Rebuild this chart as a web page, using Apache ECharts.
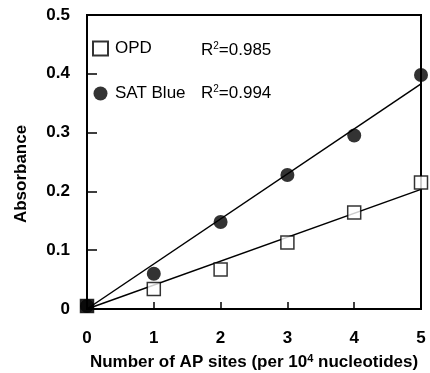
<!DOCTYPE html>
<html>
<head>
<meta charset="utf-8">
<script src="https://cdn.jsdelivr.net/npm/echarts@6/dist/echarts.min.js"></script>
<style>
  html, body { margin: 0; padding: 0; background: #fff; }
  #chart { width: 430px; height: 373px; }
</style>
</head>
<body>
<div id="chart"></div>
<script>
// data
const apSites = [0, 1, 2, 3, 4, 5]
const satBlue = [0.005, 0.06, 0.148, 0.228, 0.295, 0.398]
const opd = [0.005, 0.034, 0.067, 0.113, 0.164, 0.215]
const yTicks = [0, 0.1, 0.2, 0.3, 0.4, 0.5]
const xTicks = [0, 1, 2, 3, 4, 5]
const rSquared = { OPD: '0.985', 'SAT Blue': '0.994' }

const FONT = 'Liberation Sans, Arial, Helvetica, sans-serif'

// least squares fit forced through the origin
function fitLine(xs, ys) {
    let sxy = 0, sxx = 0
    xs.forEach((x, i) => { sxy += x * ys[i]; sxx += x * x })
    const k = sxy / sxx
    const x0 = xs[0], x1 = xs[xs.length - 1]
    return [[x0, k * x0], [x1, k * x1]]
}

const rich = {
    t: { fontSize: 17, fill: '#000', fontFamily: FONT },
    s: { fontSize: 10, fill: '#000', fontFamily: FONT, verticalAlign: 'top', padding: [0, 0, 8, 0] }
}

const chart = echarts.init(document.getElementById('chart'))

const option = {
    animation: false,
    textStyle: { fontFamily: FONT },
    grid: {
        left: 87, right: 9, top: 15, bottom: 64,
        outerBoundsMode: 'none',
        show: true, borderColor: '#000', borderWidth: 2
    },
    legend: {
        data: ['OPD', 'SAT Blue'],
        orient: 'vertical',
        left: 92, top: 40, padding: 0,
        itemWidth: 15, itemHeight: 14, itemGap: 28,
        textStyle: { fontSize: 17, color: '#000', fontFamily: FONT, padding: [0, 0, 0, 2] },
        selectedMode: false
    },
    graphic: [
        {
            type: 'text', x: 201, y: 50,
            style: { text: '{t|R}{s|2}{t|=' + rSquared.OPD + '}', rich, verticalAlign: 'middle' }
        },
        {
            type: 'text', x: 201, y: 93,
            style: { text: '{t|R}{s|2}{t|=' + rSquared['SAT Blue'] + '}', rich, verticalAlign: 'middle' }
        }
    ],
    xAxis: {
        type: 'value',
        min: xTicks[0], max: xTicks[xTicks.length - 1], interval: 1,
        name: '{b|Number of AP sites (per 10}{sup|4}{b| nucleotides)}',
        nameLocation: 'middle',
        nameGap: 44,
        nameTextStyle: {
            rich: {
                b: { fontSize: 17, fontWeight: 'bold', color: '#000', fontFamily: FONT },
                sup: { fontSize: 11, fontWeight: 'bold', color: '#000', fontFamily: FONT, verticalAlign: 'top', padding: [0, 0, 8, 0] }
            }
        },
        axisLine: { lineStyle: { color: '#000', width: 2 } },
        axisTick: { inside: true, length: 7, lineStyle: { color: '#000', width: 1.5 } },
        axisLabel: { fontSize: 17, fontWeight: 'bold', color: '#000', margin: 21 },
        splitLine: { show: false }
    },
    yAxis: {
        type: 'value',
        min: yTicks[0], max: yTicks[yTicks.length - 1], interval: 0.1,
        name: 'Absorbance',
        nameLocation: 'middle',
        nameGap: 57,
        nameTextStyle: { fontSize: 17, fontWeight: 'bold', color: '#000', padding: [0, 24, 0, 0] },
        axisLine: { lineStyle: { color: '#000', width: 2 } },
        axisTick: { inside: true, length: 10, lineStyle: { color: '#000', width: 1.5 } },
        axisLabel: {
            fontSize: 17, fontWeight: 'bold', color: '#000', margin: 17,
            formatter: v => (v === 0 ? '0' : v.toFixed(1))
        },
        splitLine: { show: false }
    },
    series: [
        {
            name: 'SAT Blue fit', type: 'line',
            data: fitLine(apSites, satBlue),
            showSymbol: false, silent: true, z: 1,
            lineStyle: { color: '#000', width: 1.5 }
        },
        {
            name: 'OPD fit', type: 'line',
            data: fitLine(apSites, opd),
            showSymbol: false, silent: true, z: 1,
            lineStyle: { color: '#000', width: 1.5 }
        },
        {
            name: 'SAT Blue', type: 'scatter',
            symbol: 'circle', symbolSize: 14, z: 3,
            itemStyle: { color: '#000' },
            data: apSites.map((x, i) => [x, satBlue[i]])
        },
        {
            name: 'OPD', type: 'scatter',
            symbol: 'rect', symbolSize: 13, z: 4,
            itemStyle: { color: '#fff', borderColor: '#000', borderWidth: 1.5 },
            data: apSites.map((x, i) => i === 0
                ? { value: [x, opd[i]], itemStyle: { color: '#000' } }
                : [x, opd[i]])
        }
    ]
}

chart.setOption(option)
</script>
</body>
</html>
